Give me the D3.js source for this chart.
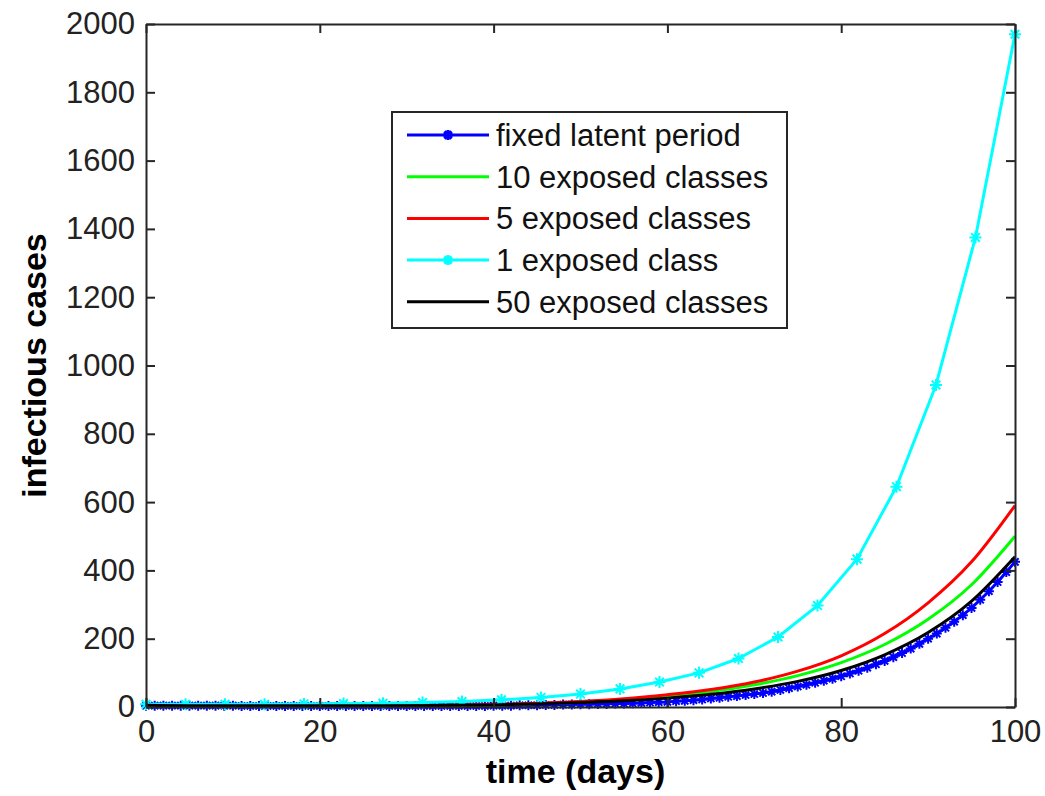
<!DOCTYPE html>
<html>
<head>
<meta charset="utf-8">
<script src="https://cdn.jsdelivr.net/npm/d3@7"></script>
<style>
  body { margin: 0; background: #fff; }
  text { font-family: Arial, "Liberation Sans", sans-serif; }
</style>
</head>
<body>
<div id="chart"></div>
<script>
// values
var days5 = [0, 5, 10, 15, 20, 25, 30, 35, 40, 45, 50, 55, 60, 65, 70, 75, 80, 85, 90, 95, 100];
var red5 = [5, 4, 4, 4, 4, 4, 4, 5, 7, 11, 16, 24, 36, 51, 73, 105, 150, 215, 305, 425, 590];
var green10 = [5, 4, 4, 4, 4, 4, 4, 5, 6, 10, 14, 21, 31, 45, 65, 92, 130, 183, 257, 358, 500];
var black50 = [5, 4, 4, 4, 4, 4, 4, 5, 6, 9, 13, 18, 26, 37, 53, 75, 107, 153, 218, 310, 440];

var cyanDays = [0, 4.55, 9.09, 13.64, 18.18, 22.73, 27.27, 31.82, 36.36, 40.91, 45.45, 50,
  54.55, 59.09, 63.64, 68.18, 72.73, 77.27, 81.82, 86.36, 90.91, 95.45, 100];
var cyan1 = [8, 8, 8, 8, 9, 10, 11, 13, 16, 21, 28, 38, 53, 73, 100, 142, 205, 297, 433, 645, 943, 1375, 1970];

var blueDays = d3.range(0, 101);
var blueFixed = [4, 4, 4, 4, 4, 4, 4, 4, 4, 4, 4, 3, 3, 3, 3, 3, 3, 3, 3, 3,
  3, 3, 3, 3, 3, 3, 3, 3, 3, 3, 3, 3, 3, 3, 3, 3, 3, 3, 3, 3,
  4, 4, 4, 5, 5, 5, 6, 6, 7, 7, 8, 8, 9, 9, 10, 10, 11, 12, 13, 14,
  15, 17, 18, 20, 22, 25, 27, 30, 32, 35, 38, 41, 45, 50, 55, 60, 65, 71, 77, 83,
  90, 98, 106, 115, 125, 135, 146, 158, 171, 185, 200, 215, 232, 250, 269, 290, 314, 339, 366, 395, 425];

var xTicks = [0, 20, 40, 60, 80, 100];
var yTicks = [0, 200, 400, 600, 800, 1000, 1200, 1400, 1600, 1800, 2000];

var series = [
  {name: "fixed latent period", x: blueDays, y: blueFixed, color: "#0000ff", star: true, r: 5},
  {name: "10 exposed classes", x: days5, y: green10, color: "#00ff00"},
  {name: "5 exposed classes", x: days5, y: red5, color: "#ff0000"},
  {name: "1 exposed class", x: cyanDays, y: cyan1, color: "#00ffff", star: true, r: 6},
  {name: "50 exposed classes", x: days5, y: black50, color: "#000000"}
];

var width = 1045, height = 796;
var m = {left: 146, right: 1015, top: 24, bottom: 707};

var svg = d3.select("#chart").append("svg")
  .attr("width", width).attr("height", height);

var x = d3.scaleLinear().domain([0, 100]).range([m.left, m.right]);
var y = d3.scaleLinear().domain([0, 2000]).range([m.bottom, m.top]);

// star marker like matlab '*'
function starPath(r) {
  var k = r * 0.72;
  return "M" + (-r) + ",0L" + r + ",0M0," + (-r) + "L0," + r +
    "M" + (-k) + "," + (-k) + "L" + k + "," + k + "M" + (-k) + "," + k + "L" + k + "," + (-k);
}

var plot = svg.append("g");
var smooth = d3.line().curve(d3.curveMonotoneX);

series.forEach(function(s) {
  var pts = s.x.map(function(d, i) { return [x(d), y(s.y[i])]; });
  plot.append("path")
    .attr("d", s.star ? d3.line()(pts) : smooth(pts))
    .attr("fill", "none")
    .attr("stroke", s.color)
    .attr("stroke-width", 3)
    .attr("stroke-linejoin", "round");
  if (s.star) {
    plot.selectAll(null).data(pts).enter().append("path")
      .attr("transform", function(p) { return "translate(" + p[0] + "," + p[1] + ")"; })
      .attr("d", starPath(s.r))
      .attr("fill", "none")
      .attr("stroke", s.color)
      .attr("stroke-width", 2);
  }
});

// axes, matlab style: box with inward ticks on all sides
var axisColor = "#262626";
function styleAxis(g) {
  g.select(".domain").attr("stroke", axisColor).attr("stroke-width", 2);
  g.selectAll(".tick line").attr("stroke", axisColor).attr("stroke-width", 2);
  g.selectAll(".tick text").attr("font-size", 31).attr("fill", "#222")
    .attr("font-family", "Arial, 'Liberation Sans', sans-serif");
}
var fmt = d3.format("d");
svg.append("g").attr("transform", "translate(0," + m.bottom + ")")
  .call(d3.axisBottom(x).tickValues(xTicks).tickFormat(fmt).tickSizeInner(-9).tickSizeOuter(0).tickPadding(13))
  .call(styleAxis);
svg.append("g").attr("transform", "translate(0," + m.top + ")")
  .call(d3.axisTop(x).tickValues(xTicks).tickSizeInner(-9).tickSizeOuter(0).tickFormat(""))
  .call(styleAxis);
svg.append("g").attr("transform", "translate(" + m.left + ",0)")
  .call(d3.axisLeft(y).tickValues(yTicks).tickFormat(fmt).tickSizeInner(-9).tickSizeOuter(0).tickPadding(11))
  .call(styleAxis);
svg.append("g").attr("transform", "translate(" + m.right + ",0)")
  .call(d3.axisRight(y).tickValues(yTicks).tickSizeInner(-9).tickSizeOuter(0).tickFormat(""))
  .call(styleAxis);

// axis labels
svg.append("text")
  .attr("x", (m.left + m.right) / 2 - 5).attr("y", 783)
  .attr("text-anchor", "middle")
  .attr("font-size", 34).attr("font-weight", "bold")
  .text("time (days)");
svg.append("text")
  .attr("transform", "translate(46," + ((m.top + m.bottom) / 2) + ") rotate(-90)")
  .attr("text-anchor", "middle")
  .attr("font-size", 34).attr("font-weight", "bold")
  .text("infectious cases");

// legend
var lg = svg.append("g").attr("transform", "translate(392,112)");
lg.append("rect").attr("width", 395).attr("height", 216)
  .attr("fill", "#fff").attr("stroke", axisColor).attr("stroke-width", 2);
series.forEach(function(s, i) {
  var yy = 23 + i * 41.7;
  lg.append("line").attr("x1", 15).attr("x2", 97).attr("y1", yy).attr("y2", yy)
    .attr("stroke", s.color).attr("stroke-width", 3);
  if (s.star) {
    lg.append("path").attr("transform", "translate(56," + yy + ")")
      .attr("d", starPath(5)).attr("fill", "none")
      .attr("stroke", s.color).attr("stroke-width", 3);
  }
  lg.append("text").attr("x", 104).attr("y", yy + 11)
    .attr("font-size", 31).attr("fill", "#111")
    .text(s.name);
});
</script>
</body>
</html>
